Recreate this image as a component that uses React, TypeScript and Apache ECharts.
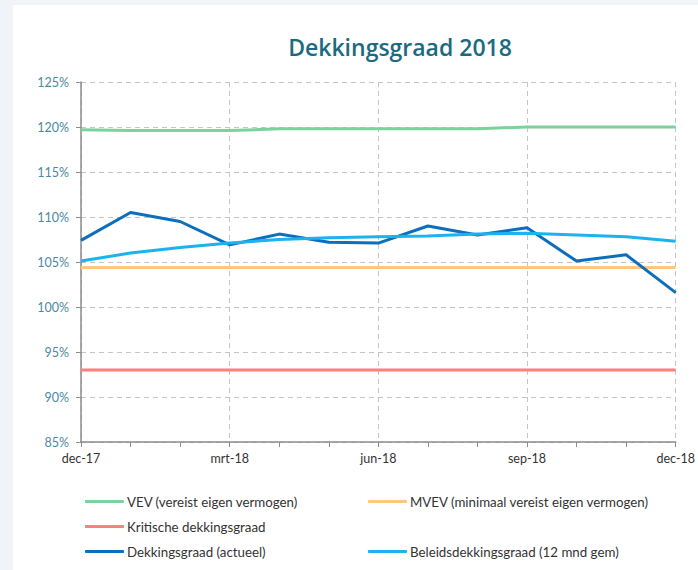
import React, { useEffect, useRef } from "react";
import * as echarts from "echarts";

const categories = ["dec-17", "jan-18", "feb-18", "mrt-18", "apr-18", "mei-18", "jun-18", "jul-18", "aug-18", "sep-18", "okt-18", "nov-18", "dec-18"];
const vev = [119.7, 119.6, 119.6, 119.6, 119.8, 119.8, 119.8, 119.8, 119.8, 120.0, 120.0, 120.0, 120.0];
const mvev = [104.4, 104.4, 104.4, 104.4, 104.4, 104.4, 104.4, 104.4, 104.4, 104.4, 104.4, 104.4, 104.4];
const kritisch = [93.0, 93.0, 93.0, 93.0, 93.0, 93.0, 93.0, 93.0, 93.0, 93.0, 93.0, 93.0, 93.0];
const actueel = [107.4, 110.5, 109.5, 106.9, 108.1, 107.2, 107.1, 109.0, 108.0, 108.8, 105.1, 105.8, 101.6];
const beleid = [105.1, 106.0, 106.6, 107.1, 107.5, 107.7, 107.8, 107.9, 108.1, 108.2, 108.0, 107.8, 107.3];

const names = [
  "VEV (vereist eigen vermogen)",
  "MVEV (minimaal vereist eigen vermogen)",
  "Kritische dekkingsgraad",
  "Dekkingsgraad (actueel)",
  "Beleidsdekkingsgraad (12 mnd gem)",
];
const colors = ["#7ad39c", "#ffc77a", "#ff7f7f", "#0c6fbd", "#1cb2ef"];
const seriesData = [vev, mvev, kritisch, actueel, beleid];

const FONT = "Lato";

export default function App() {
  const ref = useRef<HTMLDivElement>(null);
  useEffect(() => {
    if (!ref.current) return;
    const chart = echarts.init(ref.current, undefined, { renderer: "svg" });
    const legendPos = [
      { left: 85, top: 495 },
      { left: 368, top: 495 },
      { left: 85, top: 520 },
      { left: 85, top: 545 },
      { left: 368, top: 545 },
    ];
    chart.setOption({
      animation: false,
      backgroundColor: "#f0f4f9",
      textStyle: { fontFamily: FONT },
      graphic: [
        {
          type: "rect",
          z: -10,
          silent: true,
          shape: { x: 13, y: 5, width: 700, height: 580 },
          style: { fill: "#ffffff" },
        },
      ],
      title: {
        text: "Dekkingsgraad 2018",
        left: 395,
        textAlign: "center",
        top: 30,
        textStyle: { fontFamily: "Open Sans", fontSize: 23, fontWeight: 600, color: "#1b6a80" },
      },
      legend: names.map((n, i) => ({
        data: [n],
        left: legendPos[i].left,
        top: legendPos[i].top,
        icon: "roundRect",
        itemWidth: 39,
        itemHeight: 3,
        itemGap: 3,
        textStyle: { fontFamily: FONT, fontSize: 13.3, color: "#333333", padding: [0, 0, 0, -2] },
        padding: 0,
        selectedMode: false,
      })),
      grid: { left: 81, right: 13, top: 82, bottom: 128, containLabel: false },
      xAxis: {
        type: "category",
        data: categories,
        boundaryGap: false,
        axisLine: { lineStyle: { color: "#8c8c8c", width: 1.5 } },
        axisTick: { show: true, interval: 0, length: 5, lineStyle: { color: "#8c8c8c" } },
        axisLabel: { interval: 2, color: "#333333", fontSize: 12.5, margin: 10, fontFamily: FONT },
        splitLine: { show: true, interval: 2, lineStyle: { color: "#c4c4c4", type: [5, 4] } },
      },
      yAxis: {
        type: "value",
        min: 85,
        max: 125,
        interval: 5,
        axisLine: { show: true, lineStyle: { color: "#8c8c8c", width: 1.5 } },
        axisTick: { show: true, length: 5, lineStyle: { color: "#8c8c8c" } },
        axisLabel: { formatter: "{value}%", color: "#4a89a2", fontSize: 12.5, margin: 12, fontFamily: FONT },
        splitLine: { show: true, lineStyle: { color: "#c4c4c4", type: [5, 4] } },
      },
      series: names.map((n, i) => ({
        name: n,
        type: "line",
        data: seriesData[i],
        symbol: "none",
        showSymbol: false,
        lineStyle: { color: colors[i], width: 3 },
        itemStyle: { color: colors[i] },
        z: i + 2,
      })),
    });
    return () => chart.dispose();
  }, []);
  return (
    <div style={{ position: "fixed", left: 0, top: 0, width: 698, height: 570 }}>
      <div ref={ref} style={{ width: 698, height: 570 }} />
    </div>
  );
}
